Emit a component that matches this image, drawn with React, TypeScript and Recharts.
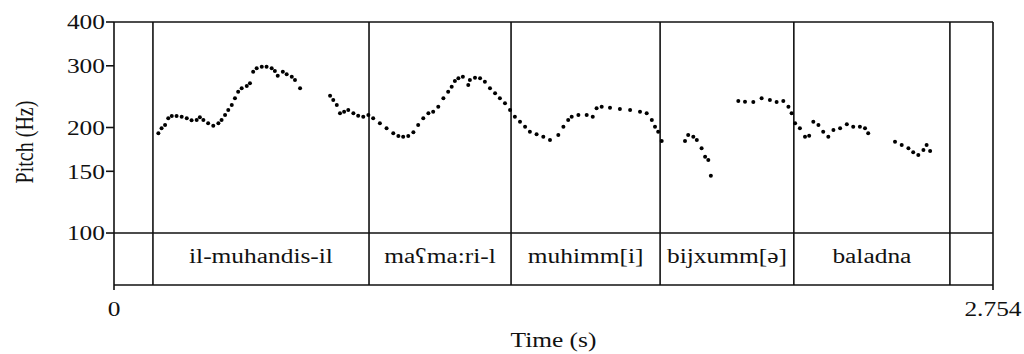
import React from "react";
import {
  ComposedChart,
  Scatter,
  XAxis,
  YAxis,
  ReferenceLine,
  ReferenceArea,
} from "recharts";

// pitch track as [time (s), F0 (Hz)]
const ilMuhandisIl: [number, number][] = [
  [0.139, 192.5], [0.149, 198.9], [0.160, 203.3], [0.170, 212.4], [0.181, 215.7],
  [0.196, 215.7], [0.212, 214.7], [0.228, 212.4], [0.243, 209.7], [0.259, 210.1],
  [0.269, 213.9], [0.280, 210.0], [0.295, 205.6], [0.311, 202.4], [0.327, 205.6],
  [0.337, 210.0], [0.348, 217.1], [0.358, 224.4], [0.369, 231.9], [0.379, 242.3],
  [0.389, 253.0], [0.400, 258.7], [0.416, 262.7], [0.426, 267.4], [0.436, 288.5],
  [0.447, 295.1], [0.463, 298.3], [0.478, 298.3], [0.494, 295.1], [0.504, 289.9],
  [0.513, 281.1], [0.529, 288.5], [0.541, 283.7], [0.557, 279.3], [0.567, 273.3],
  [0.583, 258.7],
  [0.677, 246.5], [0.687, 239.7], [0.698, 231.9], [0.708, 219.6], [0.721, 221.9],
  [0.734, 224.4], [0.750, 219.6], [0.765, 216.1], [0.781, 214.7], [0.797, 217.1],
];

const maamaril: [number, number][] = [
  [0.812, 212.4], [0.833, 205.6], [0.854, 198.9], [0.875, 192.5], [0.891, 189.1],
  [0.906, 188.3], [0.922, 189.1], [0.938, 193.8], [0.953, 203.3], [0.969, 212.4],
  [0.985, 219.6], [1.000, 221.9], [1.016, 229.3], [1.032, 242.3], [1.047, 253.0],
  [1.058, 261.5], [1.068, 271.5], [1.079, 276.3], [1.093, 279.3], [1.110, 264.5],
  [1.115, 273.3], [1.131, 277.4], [1.147, 276.3], [1.162, 270.3], [1.178, 258.7],
  [1.194, 250.4], [1.209, 242.3], [1.225, 234.5], [1.241, 224.4],
];

const muhimmi: [number, number][] = [
  [1.256, 214.7], [1.272, 207.8], [1.288, 201.1], [1.303, 194.6], [1.324, 191.3],
  [1.345, 188.3], [1.366, 184.2], [1.392, 190.4], [1.408, 201.1], [1.423, 210.1],
  [1.434, 214.7], [1.455, 217.1], [1.481, 217.1], [1.500, 214.7], [1.512, 226.9],
  [1.528, 229.3], [1.554, 227.8], [1.585, 225.8], [1.617, 224.4], [1.648, 221.9],
  [1.669, 219.6], [1.685, 210.1], [1.695, 201.1], [1.705, 194.6], [1.716, 183.0],
];

const bijxumme: [number, number][] = [
  [1.789, 183.0], [1.799, 190.4], [1.815, 188.3], [1.826, 184.2], [1.841, 174.5],
  [1.852, 165.1], [1.862, 161.6], [1.870, 145.7],
  [1.956, 238.0], [1.977, 237.0], [2.003, 236.5], [2.029, 242.3], [2.055, 239.7],
  [2.076, 236.5], [2.097, 238.0], [2.113, 229.3], [2.123, 219.6],
];

const baladna: [number, number][] = [
  [2.134, 205.6], [2.149, 198.9], [2.165, 188.3], [2.178, 189.5], [2.191, 207.8],
  [2.207, 203.3], [2.222, 194.6], [2.238, 188.3], [2.254, 196.7], [2.275, 198.9],
  [2.296, 204.2], [2.316, 201.1], [2.337, 201.1], [2.353, 198.9], [2.363, 192.5],
  [2.447, 182.2], [2.468, 178.3], [2.489, 174.5], [2.504, 169.9], [2.520, 166.9],
  [2.536, 172.5], [2.546, 178.3], [2.557, 171.4],
];

// word tier
const boundaries = [0.122, 0.799, 1.244, 1.711, 2.13, 2.619];
const words = ["il-muhandis-il", "maʕma:ri-l", "muhimm[i]", "bijxumm[ə]", "baladna"];

const xTicks = [0, 2.754];
const yTicks = [100, 150, 200, 300, 400];
const END_TIME = 2.754;
const TOP_HZ = 400;
const PITCH_FLOOR = 100;
const TIER_FLOOR = 71.07; // bottom of the text tier on the log axis

const FONT = "'Liberation Serif', 'Times New Roman', serif";
const SX = 1.27; // the source figure is stretched sideways
const INK = "#111";

const points = [...ilMuhandisIl, ...maamaril, ...muhimmi, ...bijxumme, ...baladna].map(
  ([t, hz]) => ({ t, hz })
);

const YTick = ({ x, y, payload }: any) => (
  <text
    transform={`translate(${x},${y}) scale(${SX},1)`}
    textAnchor="end"
    dy="0.36em"
    fontFamily={FONT}
    fontSize={20}
    fill={INK}
  >
    {payload.value}
  </text>
);

const XTick = ({ x, y, payload }: any) => (
  <text
    transform={`translate(${x},${y + 3}) scale(${SX},1)`}
    textAnchor="middle"
    dy="0.71em"
    fontFamily={FONT}
    fontSize={20}
    fill={INK}
  >
    {payload.value}
  </text>
);

const Dot = ({ cx, cy }: any) => <circle cx={cx} cy={cy} r={2} fill="#000" />;

export default function App() {
  return (
    <div style={{ position: "absolute", left: 0, top: 0, background: "#fff" }}>
      <ComposedChart
        width={1024}
        height={354}
        data={points}
        margin={{ top: 22, right: 31, left: 0, bottom: 0 }}
      >
        <XAxis
          dataKey="t"
          type="number"
          domain={[0, END_TIME]}
          ticks={xTicks}
          height={69}
          tickSize={5}
          tickMargin={9}
          axisLine={{ stroke: INK, strokeWidth: 1.6 }}
          tickLine={{ stroke: INK, strokeWidth: 1.6 }}
          tick={<XTick />}
          label={{
            content: ({ viewBox }: any) => (
              <text
                transform={`translate(${viewBox.x + viewBox.width / 2},${viewBox.y + 62}) scale(${SX},1)`}
                textAnchor="middle"
                fontFamily={FONT}
                fontSize={20}
                fill={INK}
              >
                Time (s)
              </text>
            ),
          }}
        />
        <YAxis
          dataKey="hz"
          type="number"
          scale="log"
          domain={[TIER_FLOOR, TOP_HZ]}
          allowDataOverflow
          ticks={yTicks}
          width={114}
          tickSize={8}
          tickMargin={1}
          axisLine={{ stroke: INK, strokeWidth: 1.6 }}
          tickLine={{ stroke: INK, strokeWidth: 1.6 }}
          tick={<YTick />}
          label={{
            content: ({ viewBox }: any) => (
              <text
                transform={`translate(${viewBox.x + 24},${viewBox.y + 120}) rotate(-90) scale(1,${SX})`}
                textAnchor="middle"
                dy="0.36em"
                fontFamily={FONT}
                fontSize={20}
                fill={INK}
              >
                Pitch (Hz)
              </text>
            ),
          }}
        />
        <ReferenceLine y={TOP_HZ} stroke={INK} strokeWidth={1.6} />
        <ReferenceLine y={PITCH_FLOOR} stroke={INK} strokeWidth={1.6} />
        <ReferenceLine x={END_TIME} stroke={INK} strokeWidth={1.6} />
        {boundaries.map((b) => (
          <ReferenceLine key={b} x={b} stroke={INK} strokeWidth={1.6} />
        ))}
        {words.map((w, i) => (
          <ReferenceArea
            key={w}
            x1={boundaries[i]}
            x2={boundaries[i + 1]}
            y1={TIER_FLOOR}
            y2={PITCH_FLOOR}
            fill="none"
            stroke="none"
            label={{
              content: ({ viewBox }: any) => (
                <text
                  transform={`translate(${viewBox.x + viewBox.width / 2},${viewBox.y + viewBox.height / 2}) scale(${SX},1)`}
                  textAnchor="middle"
                  dy="0.22em"
                  fontFamily={FONT}
                  fontSize={20}
                  fill={INK}
                >
                  {w}
                </text>
              ),
            }}
          />
        ))}
        <Scatter dataKey="hz" shape={<Dot />} isAnimationActive={false} />
      </ComposedChart>
    </div>
  );
}
